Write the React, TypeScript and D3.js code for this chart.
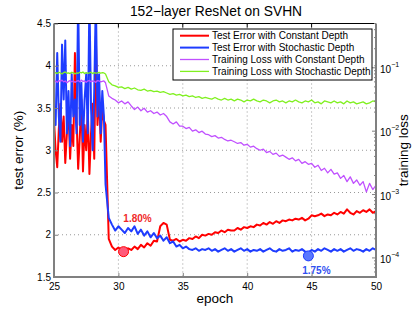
import { useEffect, useRef } from 'react'
import * as d3 from 'd3'

// epochs: every eighth of an epoch before the drop at 29, then every quarter epoch
const epochs = [...d3.range(32).map(i => 25 + i * 0.125), ...d3.range(85).map(i => 29 + i * 0.25)]

// test error (%) with constant depth
const constantError = [
  3.35, 3.00, 2.80, 3.25, 3.55, 3.10, 3.40, 2.85,
  3.20, 3.50, 2.90, 3.30, 3.05, 4.15, 3.40, 2.78,
  3.15, 3.60, 2.75, 3.30, 3.00, 3.45, 2.72, 3.20,
  3.55, 2.90, 4.35, 3.30, 3.65, 3.10, 3.50, 3.35,
  3.30, 1.95, 1.86, 1.82, 1.85, 1.82, 1.80, 1.84,
  1.82, 1.86, 1.83, 1.88, 1.85, 1.90, 1.87, 1.93,
  1.92, 2.10, 2.14, 2.12, 1.94, 1.93, 1.95, 1.92,
  1.94, 1.93, 1.96, 1.95, 1.98, 1.96, 2.00, 1.99,
  2.01, 2.00, 2.03, 2.02, 2.05, 2.03, 2.06, 2.05,
  2.05, 2.08, 2.06, 2.09, 2.08, 2.10, 2.09, 2.12,
  2.11, 2.14, 2.12, 2.15, 2.13, 2.16, 2.14, 2.17,
  2.16, 2.18, 2.17, 2.19, 2.18, 2.20, 2.17, 2.19,
  2.23, 2.22, 2.23, 2.25, 2.22, 2.24, 2.23, 2.26,
  2.24, 2.27, 2.25, 2.30, 2.26, 2.24, 2.28, 2.26,
  2.29, 2.27, 2.30, 2.26, 2.28
]

// test error (%) with stochastic depth
const stochasticError = [
  3.50, 3.30, 4.15, 3.40, 3.10, 4.25, 3.60, 4.30,
  3.20, 3.70, 3.05, 3.90, 3.40, 3.60, 3.20, 4.80,
  3.30, 3.80, 3.10, 3.60, 3.90, 3.20, 4.80, 3.50,
  3.00, 3.70, 4.80, 3.40, 3.90, 3.20, 3.70, 3.40,
  2.60, 2.20, 2.12, 2.05, 2.10, 2.06, 2.02, 2.08,
  2.04, 2.10, 2.01, 2.06, 1.99, 2.04, 1.97, 2.02,
  1.96, 1.99, 1.93, 1.97, 1.90, 1.92, 1.86, 1.88,
  1.84, 1.86, 1.83, 1.82, 1.84, 1.81, 1.83, 1.82,
  1.84, 1.81, 1.83, 1.80, 1.82, 1.84, 1.81, 1.83,
  1.80, 1.82, 1.84, 1.81, 1.83, 1.80, 1.82, 1.81,
  1.83, 1.80, 1.82, 1.84, 1.81, 1.80, 1.83, 1.81,
  1.82, 1.84, 1.80, 1.82, 1.81, 1.83, 1.80, 1.79,
  1.82, 1.80, 1.83, 1.81, 1.84, 1.82, 1.80, 1.83,
  1.81, 1.83, 1.80, 1.82, 1.84, 1.81, 1.83, 1.82,
  1.80, 1.83, 1.81, 1.84, 1.82
]

// training loss with constant depth
const constantLoss = [
  0.060, 0.062, 0.059, 0.063, 0.061, 0.064, 0.060, 0.062,
  0.058, 0.061, 0.063, 0.060, 0.062, 0.059, 0.061, 0.063,
  0.060, 0.064, 0.061, 0.062, 0.059, 0.062, 0.063, 0.060,
  0.062, 0.061, 0.059, 0.063, 0.062, 0.060, 0.061, 0.062,
  0.058, 0.036, 0.033, 0.031, 0.028, 0.030, 0.027, 0.029,
  0.025, 0.022, 0.024, 0.021, 0.023, 0.020, 0.021, 0.019,
  0.020, 0.018, 0.019, 0.017, 0.014, 0.013, 0.014, 0.012,
  0.012, 0.011, 0.0115, 0.010, 0.0105, 0.0095, 0.010, 0.0090,
  0.0088, 0.0082, 0.0085, 0.0078, 0.0080, 0.0074, 0.0070, 0.0072,
  0.0068, 0.0064, 0.0066, 0.0060, 0.0062, 0.0056, 0.0058, 0.0053,
  0.0050, 0.0052, 0.0046, 0.0048, 0.0043, 0.0045, 0.0040, 0.0042,
  0.0039, 0.0036, 0.0038, 0.0034, 0.0036, 0.0031, 0.0033, 0.0030,
  0.0031, 0.0027, 0.0029, 0.0024, 0.0026, 0.0022, 0.0025, 0.0021,
  0.0022, 0.0018, 0.0020, 0.0016, 0.0019, 0.0015, 0.0017, 0.0014,
  0.0016, 0.0011, 0.0015, 0.0012, 0.0014
]

// training loss with stochastic depth
const stochasticLoss = [
  0.082, 0.084, 0.081, 0.085, 0.083, 0.080, 0.084, 0.086,
  0.082, 0.083, 0.081, 0.085, 0.084, 0.080, 0.083, 0.082,
  0.085, 0.083, 0.086, 0.081, 0.084, 0.082, 0.083, 0.085,
  0.081, 0.084, 0.082, 0.083, 0.085, 0.082, 0.084, 0.083,
  0.080, 0.060, 0.054, 0.052, 0.049, 0.050, 0.047, 0.049,
  0.046, 0.048, 0.045, 0.044, 0.046, 0.043, 0.044, 0.042,
  0.043, 0.041, 0.042, 0.040, 0.038, 0.039, 0.037, 0.038,
  0.036, 0.037, 0.035, 0.036, 0.034, 0.035, 0.033, 0.034,
  0.033, 0.032, 0.034, 0.032, 0.031, 0.033, 0.031, 0.032,
  0.030, 0.032, 0.031, 0.029, 0.031, 0.030, 0.032, 0.030,
  0.029, 0.031, 0.030, 0.028, 0.030, 0.031, 0.029, 0.030,
  0.028, 0.030, 0.029, 0.031, 0.029, 0.028, 0.030, 0.029,
  0.031, 0.028, 0.029, 0.027, 0.030, 0.029, 0.028, 0.030,
  0.028, 0.029, 0.027, 0.030, 0.028, 0.029, 0.027, 0.028,
  0.029, 0.027, 0.028, 0.030, 0.029
]

// best test errors, highlighted with a dot
const bestEpochs = [30.4, 44.75]
const bestErrors = [1.80, 1.75]

const epochTicks = [25, 30, 35, 40, 45, 50]
const errorTicks = [1.5, 2, 2.5, 3, 3.5, 4, 4.5]
const lossTicks = [1e-4, 1e-3, 1e-2, 1e-1]
const legendLabels = [
  'Test Error with Constant Depth',
  'Test Error with Stochastic Depth',
  'Training Loss with Constant Depth',
  'Training Loss with Stochastic Depth'
]

export default function App() {
  const svgRef = useRef<SVGSVGElement>(null)

  useEffect(() => {
    const svg = d3.select(svgRef.current)
    svg.selectAll('*').remove()

    const font = '"Liberation Sans", Arial, Helvetica, sans-serif'
    const colors = ['#ff0000', '#1e3cff', '#c050ff', '#80f020']
    const widths = [2, 2, 1.3, 1.3]
    const left = 54, right = 376, top = 23.5, bottom = 277

    const x = d3.scaleLinear([25, 50], [left, right])
    const y = d3.scaleLinear([1.5, 4.5], [bottom, top])
    const yLoss = d3.scaleLog([5e-5, 0.5], [bottom, top])

    svg.style('font-family', font)

    svg.append('defs')
      .append('clipPath')
      .attr('id', 'plot-clip')
      .append('rect')
      .attr('x', left).attr('y', top)
      .attr('width', right - left).attr('height', bottom - top)

    // plot background
    svg.append('rect')
      .attr('x', left).attr('y', top)
      .attr('width', right - left).attr('height', bottom - top)
      .attr('fill', 'white')

    // dotted grid
    svg.append('g')
      .selectAll('line')
      .data(epochTicks.slice(1, -1))
      .join('line')
      .attr('x1', d => x(d)).attr('x2', d => x(d))
      .attr('y1', top).attr('y2', bottom)
      .attr('stroke', '#999')
      .attr('stroke-dasharray', '1,3')
    svg.append('g')
      .selectAll('line')
      .data(errorTicks.slice(1, -1))
      .join('line')
      .attr('x1', left).attr('x2', right)
      .attr('y1', d => y(d)).attr('y2', d => y(d))
      .attr('stroke', '#999')
      .attr('stroke-dasharray', '1,3')

    // series
    const errorLine = d3.line<number>().x((_, i) => x(epochs[i])).y(d => y(d))
    const lossLine = d3.line<number>().x((_, i) => x(epochs[i])).y(d => yLoss(d))
    const plot = svg.append('g').attr('clip-path', 'url(#plot-clip)')
    const series = [
      { data: constantError, gen: errorLine },
      { data: stochasticError, gen: errorLine },
      { data: constantLoss, gen: lossLine },
      { data: stochasticLoss, gen: lossLine }
    ]
    series.forEach((s, i) => {
      plot.append('path')
        .attr('d', s.gen(s.data))
        .attr('fill', 'none')
        .attr('stroke', colors[i])
        .attr('stroke-width', widths[i])
        .attr('stroke-linejoin', 'round')
    })

    // best points
    const markFill = ['#ff5a7a', '#5a78ff']
    const labelColor = ['#f02828', '#2f4ff0']
    const labelOffset = [[14, -33], [8, 15]]
    svg.append('g')
      .selectAll('circle')
      .data(bestErrors)
      .join('circle')
      .attr('cx', (_, i) => x(bestEpochs[i]))
      .attr('cy', d => y(d))
      .attr('r', 5)
      .attr('fill', (_, i) => markFill[i])
      .attr('stroke', (_, i) => colors[i])
      .attr('stroke-width', 1)
    svg.append('g')
      .selectAll('text')
      .data(bestErrors)
      .join('text')
      .attr('x', (_, i) => x(bestEpochs[i]) + labelOffset[i][0])
      .attr('y', (d, i) => y(d) + labelOffset[i][1])
      .attr('text-anchor', 'middle')
      .attr('dominant-baseline', 'central')
      .attr('fill', (_, i) => labelColor[i])
      .style('font-size', '10px')
      .style('font-weight', 'bold')
      .text(d => d.toFixed(2) + '%')

    // axes box
    svg.append('line')
      .attr('x1', left).attr('x2', right).attr('y1', top).attr('y2', top)
      .attr('stroke', '#000').attr('stroke-width', 1)
    svg.append('path')
      .attr('d', `M${left},${top}V${bottom}H${right}V${top}`)
      .attr('fill', 'none')
      .attr('stroke', '#808080')
      .attr('stroke-width', 2)

    // x axis
    const xAxis = svg.append('g')
      .attr('transform', `translate(0,${bottom})`)
      .call(d3.axisBottom(x).tickValues(epochTicks).tickSize(-4).tickPadding(6))
    // top ticks
    svg.append('g')
      .selectAll('line')
      .data(epochTicks.slice(1, -1))
      .join('line')
      .attr('x1', d => x(d)).attr('x2', d => x(d))
      .attr('y1', top).attr('y2', top + 4)
      .attr('stroke', '#000')

    // left axis
    const yAxis = svg.append('g')
      .attr('transform', `translate(${left},0)`)
      .call(d3.axisLeft(y).tickValues(errorTicks).tickFormat(d3.format('')).tickSize(-4).tickPadding(3))

    svg.selectAll('.domain').remove()
    ;[xAxis, yAxis].forEach(a => {
      a.selectAll('.tick line').attr('stroke', '#808080')
      a.selectAll('.tick text')
        .style('font-family', font)
        .style('font-size', '10px')
        .attr('fill', '#000')
    })

    // right log axis ticks
    const minorTicks = yLoss.ticks()
    svg.append('g')
      .selectAll('line')
      .data(minorTicks)
      .join('line')
      .attr('x1', right)
      .attr('x2', d => right - (lossTicks.includes(d) ? 4 : 2))
      .attr('y1', d => yLoss(d)).attr('y2', d => yLoss(d))
      .attr('stroke', '#808080')
    const rightLabels = svg.append('g')
      .selectAll('text')
      .data(lossTicks)
      .join('text')
      .attr('x', right + 4)
      .attr('y', d => yLoss(d) + 5)
      .style('font-size', '10px')
    rightLabels.append('tspan').text('10')
    rightLabels.append('tspan')
      .attr('dy', -6)
      .style('font-size', '7px')
      .text(d => '\u2212' + Math.round(-Math.log10(d)))

    // titles
    svg.append('text')
      .attr('x', (left + right) / 2 + 1)
      .attr('y', 16)
      .attr('text-anchor', 'middle')
      .style('font-size', '13.8px')
      .text('152\u2212layer ResNet on SVHN')
    svg.append('text')
      .attr('x', (left + right) / 2)
      .attr('y', 303)
      .attr('text-anchor', 'middle')
      .style('font-size', '13.5px')
      .text('epoch')
    svg.append('text')
      .attr('transform', `translate(23,${(top + bottom) / 2}) rotate(-90)`)
      .attr('text-anchor', 'middle')
      .style('font-size', '13.5px')
      .text('test error (%)')
    svg.append('text')
      .attr('transform', `translate(408,${(top + bottom) / 2}) rotate(-90)`)
      .attr('text-anchor', 'middle')
      .style('font-size', '13.5px')
      .text('training loss')

    // legend
    const legend = svg.append('g').attr('transform', 'translate(173,29)')
    legend.append('rect')
      .attr('width', 199).attr('height', 51)
      .attr('fill', 'white')
      .attr('stroke', '#000')
      .attr('stroke-width', 1)
    const rows = legend.selectAll('g')
      .data(legendLabels)
      .join('g')
      .attr('transform', (_, i) => `translate(0,${6.7 + i * 11.9})`)
    rows.append('line')
      .attr('x1', 7).attr('x2', 36)
      .attr('stroke', (_, i) => colors[i])
      .attr('stroke-width', (_, i) => widths[i])
    rows.append('text')
      .attr('x', 39)
      .attr('dominant-baseline', 'central')
      .style('font-size', '10px')
      .text(d => d)
  }, [])

  return (
    <svg
      ref={svgRef}
      width={415}
      height={313}
      style={{ position: 'absolute', left: 0, top: 0, background: 'white' }}
    />
  )
}
